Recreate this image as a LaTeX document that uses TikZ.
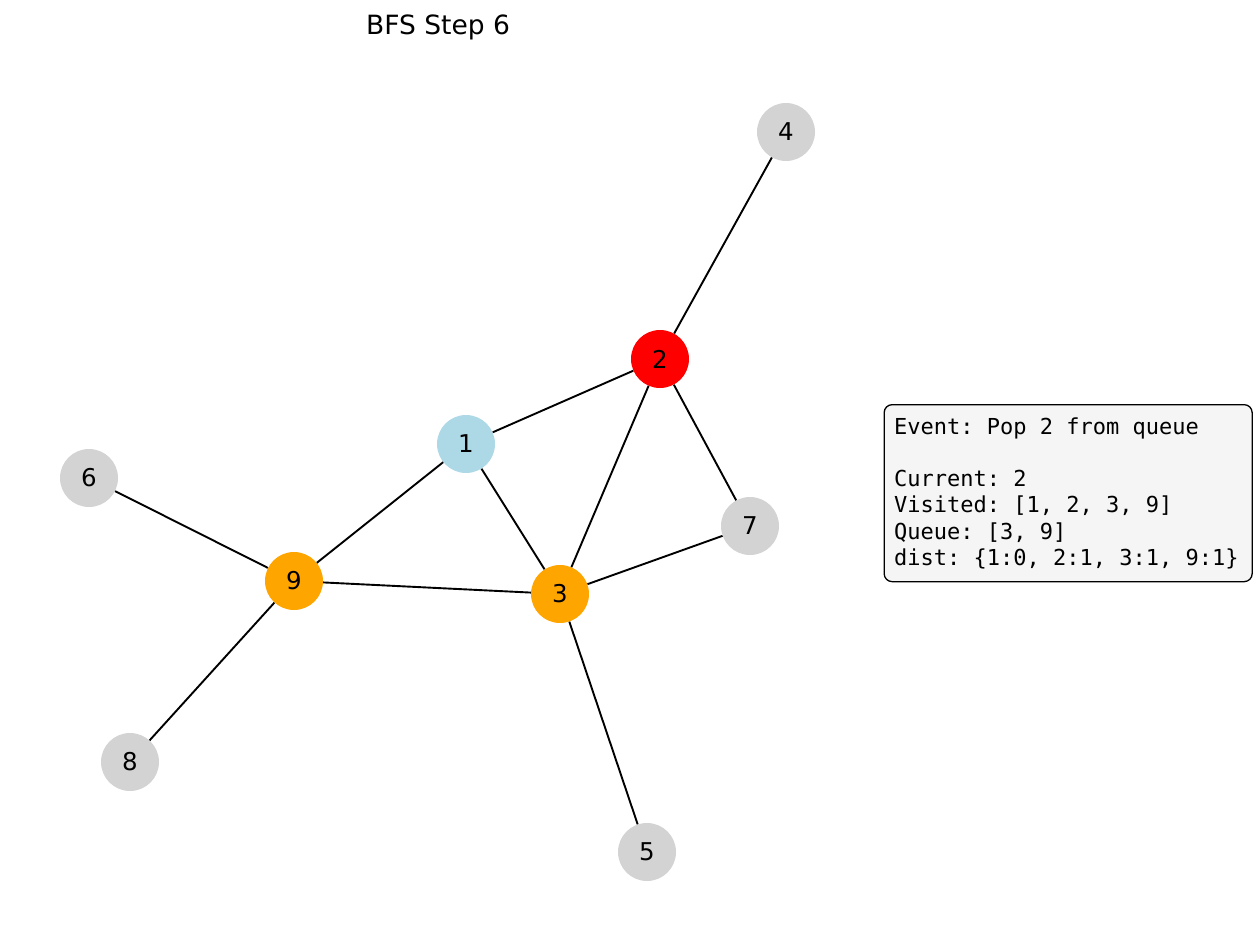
\documentclass[tikz,border=0pt]{standalone}
\usepackage{fontspec}
\setmainfont{DejaVu Sans}
\newfontfamily\monofont{DejaVu Sans Mono}
\newcommand\monosetup{\monofont\fontsize{22}{26.2}\selectfont\frenchspacing}
\newcommand\monospaces{\spaceskip=0.602em\relax\xspaceskip=0.602em\relax}
\definecolor{nlblue}{HTML}{ADD8E6}
\definecolor{nlred}{HTML}{FF0000}
\definecolor{nlorange}{HTML}{FFA500}
\definecolor{nlgray}{HTML}{D3D3D3}
\definecolor{boxfill}{HTML}{F5F5F5}
\begin{document}
\begin{tikzpicture}[x=1pt,y=-1pt,
  vtx/.style={circle,minimum size=58pt,inner sep=0pt,draw=none,font=\fontsize{24.5}{28}\selectfont},
  edge/.style={line width=1.9pt,black}]
\useasboundingbox (0,0) rectangle (1257,944);
\node[font=\fontsize{26.5}{30}\selectfont] (title) at (438,27) {BFS Step 6};
\node[vtx,fill=nlgray] (n4) at (786,132) {4};
\node[vtx,fill=nlred] (n2) at (660,359) {2};
\node[vtx,fill=nlblue] (n1) at (466,444) {1};
\node[vtx,fill=nlgray] (n6) at (89,478) {6};
\node[vtx,fill=nlgray] (n7) at (750,526) {7};
\node[vtx,fill=nlorange] (n9) at (294,581) {9};
\node[vtx,fill=nlorange] (n3) at (560,594) {3};
\node[vtx,fill=nlgray] (n8) at (130,762) {8};
\node[vtx,fill=nlgray] (n5) at (647,852) {5};
\draw[edge] (n2) -- (n4);
\draw[edge] (n2) -- (n1);
\draw[edge] (n2) -- (n3);
\draw[edge] (n2) -- (n7);
\draw[edge] (n1) -- (n9);
\draw[edge] (n1) -- (n3);
\draw[edge] (n6) -- (n9);
\draw[edge] (n9) -- (n3);
\draw[edge] (n9) -- (n8);
\draw[edge] (n3) -- (n7);
\draw[edge] (n3) -- (n5);
\node[draw=black,line width=1.3pt,fill=boxfill,rounded corners=8pt,anchor=north west,
  minimum width=368pt,minimum height=177pt,text width=348pt,inner xsep=10pt,inner ysep=8pt,align=flush left,
  font=\monosetup] (info) at (883.5,404)
  {\monospaces Event: Pop 2 from queue\\[26.2pt]Current: 2\\Visited: [1, 2, 3, 9]\\Queue: [3, 9]\\dist: \{1:0, 2:1, 3:1, 9:1\}};
\end{tikzpicture}
\end{document}
